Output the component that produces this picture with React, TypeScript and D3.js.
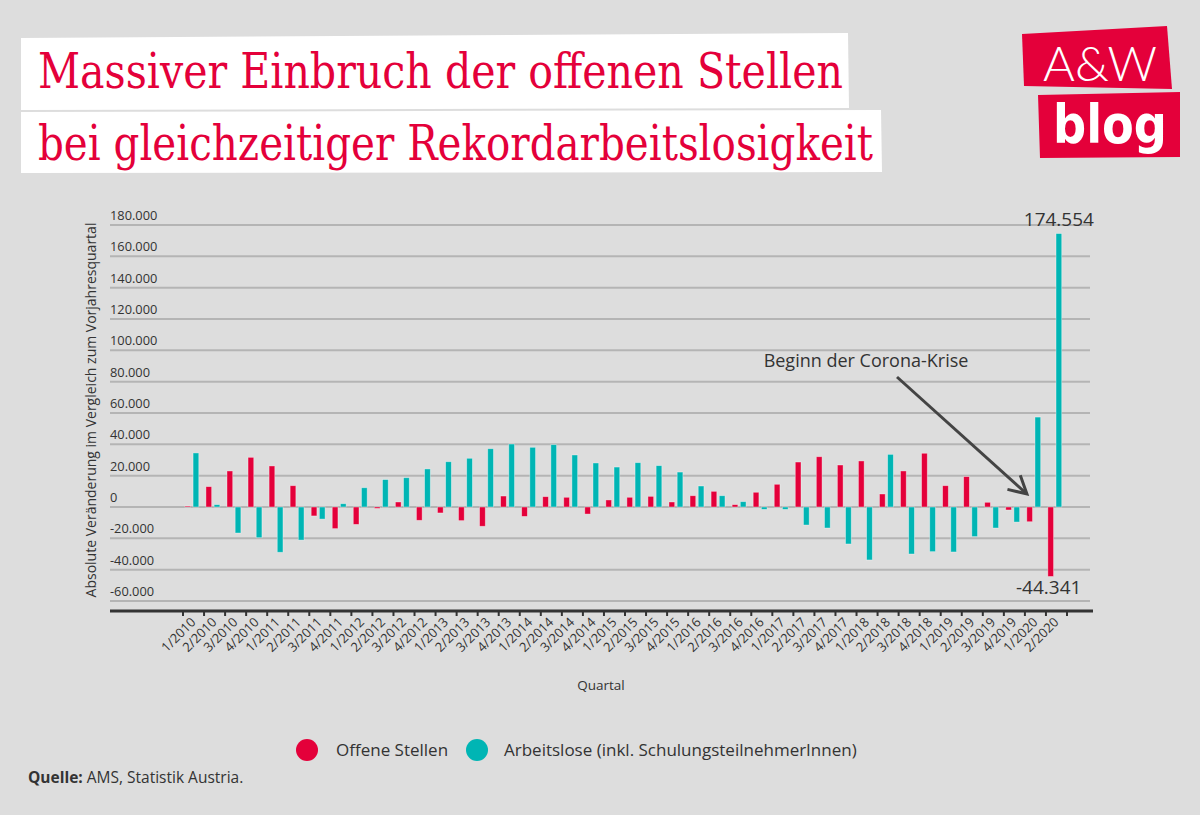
import React from 'react';
import * as d3 from 'd3';

// Quarters shown on the x axis
const quartale = [
  '1/2010', '2/2010', '3/2010', '4/2010',
  '1/2011', '2/2011', '3/2011', '4/2011',
  '1/2012', '2/2012', '3/2012', '4/2012',
  '1/2013', '2/2013', '3/2013', '4/2013',
  '1/2014', '2/2014', '3/2014', '4/2014',
  '1/2015', '2/2015', '3/2015', '4/2015',
  '1/2016', '2/2016', '3/2016', '4/2016',
  '1/2017', '2/2017', '3/2017', '4/2017',
  '1/2018', '2/2018', '3/2018', '4/2018',
  '1/2019', '2/2019', '3/2019', '4/2019',
  '1/2020', '2/2020',
];

// Change vs. same quarter of previous year
const offeneStellen = [
  600, 13000, 23000, 31700, 26200, 13600, -5700, -13800,
  -11100, -900, 3200, -8500, -3800, -8700, -12300, 7000,
  -6000, 6600, 6200, -4500, 4500, 6200, 6800, 3200,
  7200, 10000, 1500, 9400, 14500, 28700, 32100, 26800,
  29400, 8300, 23000, 34300, 13600, 19400, 3000, -1900,
  -9400, -44341,
];

const arbeitslose = [
  34500, 1500, -16600, -19600, -28900, -21100, -7700, 2100,
  12300, 17500, 18700, 24300, 28900, 31100, 37200, 40200,
  38100, 39800, 33200, 28100, 25500, 28300, 26400, 22300,
  13400, 7200, 3400, -1500, -1500, -11500, -13400, -23600,
  -33800, 33600, -30000, -28500, -28700, -18900, -13400, -9600,
  57400, 174554,
];

const yTicks = [-60000, -40000, -20000, 0, 20000, 40000, 60000, 80000, 100000, 120000, 140000, 160000, 180000];

const serien = ['Offene Stellen', 'Arbeitslose (inkl. SchulungsteilnehmerInnen)'];

const RED = '#e4003a';
const TEAL = '#00b5b4';
const TEXT = '#333333';
const FONT = "'Open Sans', 'Noto Sans', sans-serif";

const de = d3.formatLocale({ decimal: ',', thousands: '.', grouping: [3], currency: ['', '€'], minus: '-' });
const fmt = de.format(',');

export default function App() {
  const width = 1200;
  const height = 815;

  const x = d3.scaleBand<string>().domain(quartale).range([183, 1067]).padding(0);
  const bw = x.bandwidth();
  const xSub = d3.scaleBand<string>().domain(serien).range([0.09 * bw, 0.75 * bw]).paddingInner(0.3);
  const y = d3.scaleLinear().domain([0, 180000]).range([507, 225]);

  const gridLeft = 110;
  const gridRight = 1090;
  const axisY = y(-60000) + 10;

  const bars = quartale.flatMap((q, i) => [
    { q, s: serien[0], v: offeneStellen[i], color: RED },
    { q, s: serien[1], v: arbeitslose[i], color: TEAL },
  ]);

  const last = quartale.length - 1;
  const lastTealX = (x(quartale[last]) as number) + (xSub(serien[1]) as number) + xSub.bandwidth() / 2;
  const lastRedX = (x(quartale[last]) as number) + (xSub(serien[0]) as number) + xSub.bandwidth() / 2;

  // arrow pointing at the 1/2020 quarter
  const arrowEnd: [number, number] = [(x(quartale[last - 1]) as number) + 2, y(0) - 13];
  const arrowStart: [number, number] = [897, 377];
  const ang = Math.atan2(arrowEnd[1] - arrowStart[1], arrowEnd[0] - arrowStart[0]);
  const headLen = 20;
  const head1: [number, number] = [arrowEnd[0] - headLen * Math.cos(ang - 0.5), arrowEnd[1] - headLen * Math.sin(ang - 0.5)];
  const head2: [number, number] = [arrowEnd[0] - headLen * Math.cos(ang + 0.5), arrowEnd[1] - headLen * Math.sin(ang + 0.5)];

  return (
    <svg width={width} height={height} style={{ position: 'absolute', left: 0, top: 0 }} fontFamily={FONT}>
      <rect width={width} height={height} fill="#dddddd" />

      {/* title boxes */}
      <polygon points="21,38 848,33 849,108 21,110" fill="#ffffff" />
      <polygon points="21,112 881,110 882,172 21,173" fill="#ffffff" />
      <text x={38} y={88} fontFamily="'DejaVu Serif', serif" fontSize={48} fill={RED}
        textLength={805} lengthAdjust="spacingAndGlyphs">Massiver Einbruch der offenen Stellen</text>
      <text x={38} y={160} fontFamily="'DejaVu Serif', serif" fontSize={48} fill={RED}
        textLength={835} lengthAdjust="spacingAndGlyphs">bei gleichzeitiger Rekordarbeitslosigkeit</text>

      {/* logo */}
      <polygon points="1022,34 1167,26 1172,89 1024,86" fill={RED} />
      <polygon points="1038,95 1180,92 1180,157 1040,158" fill={RED} />
      <text x={1043} y={81} fontFamily="Lato, 'Open Sans', sans-serif" fontWeight={300} fontSize={47} fill="#fff"
        textLength={114} lengthAdjust="spacingAndGlyphs">A&amp;W</text>
      <text x={1053} y={143} fontFamily="'DejaVu Sans', sans-serif" fontWeight={700} fontSize={53} fill="#fff"
        textLength={114} lengthAdjust="spacingAndGlyphs">blog</text>

      {/* grid + y ticks */}
      {yTicks.map(t => (
        <g key={t}>
          <line x1={gridLeft} x2={gridRight} y1={y(t)} y2={y(t)} stroke="#b4b4b4" strokeWidth={2} />
          <text x={gridLeft} y={y(t) - 5} fontSize={12.8} fill={TEXT}>{t === 0 ? '0' : fmt(t)}</text>
        </g>
      ))}

      <text transform={`translate(96,${410}) rotate(-90)`} textAnchor="middle" fontSize={14} fill={TEXT}>
        Absolute Veränderung im Vergleich zum Vorjahresquartal
      </text>

      {/* bars */}
      {bars.map(b => (
        <rect key={b.q + b.s}
          x={(x(b.q) as number) + (xSub(b.s) as number)}
          y={y(Math.max(0, b.v))}
          width={xSub.bandwidth()}
          height={Math.abs(y(b.v) - y(0))}
          fill={b.color}
          stroke="rgba(255,255,255,0.45)"
          strokeWidth={0.8}
        />
      ))}

      {/* x axis */}
      <line x1={gridLeft} x2={gridRight + 3} y1={axisY} y2={axisY} stroke="#333" strokeWidth={3} />
      {[...quartale.map(q => x(q) as number), 1067].map((tx, i) => (
        <line key={i} x1={tx} x2={tx} y1={axisY} y2={axisY + 5} stroke="#333" strokeWidth={2} />
      ))}
      {quartale.map(q => (
        <text key={q} transform={`translate(${(x(q) as number) + bw / 2 + 3},${axisY + 12}) rotate(-45)`}
          textAnchor="end" fontSize={13} fill={TEXT}>{q}</text>
      ))}
      <text x={601} y={690} textAnchor="middle" fontSize={13.5} fill={TEXT}>Quartal</text>

      {/* annotations */}
      <text x={lastTealX} y={226} textAnchor="middle" fontSize={19} fill={TEXT}>{fmt(arbeitslose[last])}</text>
      <text x={lastRedX - 2} y={594} textAnchor="middle" fontSize={19} fill={TEXT}>{fmt(offeneStellen[last])}</text>

      <text x={866} y={367} textAnchor="middle" fontSize={18} fill={TEXT}>Beginn der Corona-Krise</text>
      <line x1={arrowStart[0]} y1={arrowStart[1]} x2={arrowEnd[0]} y2={arrowEnd[1]} stroke="#444" strokeWidth={3} />
      <polyline points={`${head1[0]},${head1[1]} ${arrowEnd[0]},${arrowEnd[1]} ${head2[0]},${head2[1]}`}
        fill="none" stroke="#444" strokeWidth={3} />

      {/* legend */}
      <circle cx={307} cy={750} r={11} fill={RED} />
      <text x={336} y={756} fontSize={17} fill={TEXT}>{serien[0]}</text>
      <circle cx={477} cy={750} r={11} fill={TEAL} />
      <text x={504} y={756} fontSize={17} fill={TEXT}>{serien[1]}</text>

      {/* source */}
      <text x={28} y={783} fontSize={15.5} fill={TEXT}>
        <tspan fontWeight={700}>Quelle:</tspan> AMS, Statistik Austria.
      </text>
    </svg>
  );
}
